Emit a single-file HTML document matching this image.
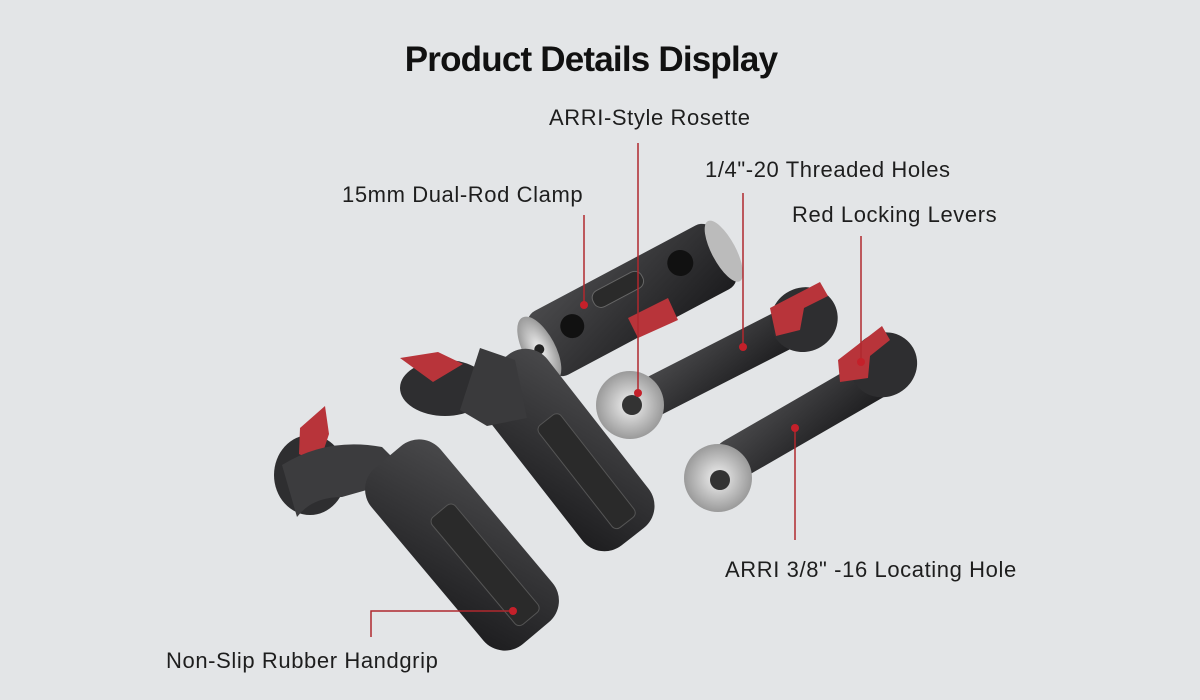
<!DOCTYPE html>
<html><head><meta charset="utf-8"><style>
html,body{margin:0;padding:0;background:#e3e5e7;}
body{width:1200px;height:700px;position:relative;overflow:hidden;font-family:"Liberation Sans",sans-serif;}
.t{position:absolute;color:#1e1e1e;font-size:22px;white-space:nowrap;letter-spacing:0.6px}
h1{position:absolute;left:0;width:1182px;top:40px;margin:0;text-align:center;font-size:35px;font-weight:bold;color:#111;letter-spacing:-0.8px}
svg{position:absolute;left:0;top:0}
</style></head><body>
<svg width="1200" height="700" viewBox="0 0 1200 700">
<defs>
<linearGradient id="g" x1="0" y1="0" x2="1" y2="1"><stop offset="0" stop-color="#4a4a4c"/><stop offset="1" stop-color="#1c1c1e"/></linearGradient>
<radialGradient id="s"><stop offset="0" stop-color="#f2f2f2"/><stop offset="1" stop-color="#9a9a9a"/></radialGradient>
</defs>
<!-- clamp -->
<g transform="translate(632,300) rotate(-28)">
<rect x="-105" y="-36" width="210" height="72" rx="14" fill="url(#g)"/>
<ellipse cx="-105" cy="0" rx="16" ry="36" fill="url(#s)"/>
<circle cx="-105" cy="0" r="5" fill="#222"/>
<ellipse cx="104" cy="0" rx="12" ry="34" fill="#bbb"/>
<rect x="-35" y="-25" width="55" height="18" rx="8" fill="#2a2a2a" stroke="#666"/>
<circle cx="-65" cy="-5" r="12" fill="#111"/><circle cx="60" cy="-10" r="13" fill="#111"/>
</g>
<path d="M628 318 l40 -20 l10 22 l-40 18 z" fill="#b8343a"/>
<!-- arm 1 -->
<g transform="translate(715,365) rotate(-27)">
<rect x="-90" y="-20" width="190" height="40" rx="18" fill="url(#g)"/>
<ellipse cx="100" cy="0" rx="34" ry="32" fill="#2e2e30"/>
</g>
<circle cx="630" cy="405" r="34" fill="url(#s)"/><circle cx="632" cy="405" r="10" fill="#333"/>
<path d="M770 308 l50 -26 l8 14 l-24 12 l-4 22 l-24 6 z" fill="#b8343a"/>
<!-- arm 2 -->
<g transform="translate(800,420) rotate(-30)">
<rect x="-95" y="-20" width="200" height="42" rx="18" fill="url(#g)"/>
<ellipse cx="100" cy="-6" rx="34" ry="32" fill="#2e2e30"/>
</g>
<circle cx="718" cy="478" r="34" fill="url(#s)"/><circle cx="720" cy="480" r="10" fill="#333"/>
<path d="M838 360 l44 -34 l8 14 l-20 16 l-2 22 l-28 4 z" fill="#b8343a"/>
<!-- grip 2 -->
<ellipse cx="445" cy="388" rx="45" ry="28" fill="#2e2e30"/>
<path d="M400 358 l38 -6 l25 12 l-30 18 z" fill="#b8343a"/>
<g transform="translate(565,450) rotate(52)">
<rect x="-110" y="-42" width="220" height="84" rx="28" fill="url(#g)"/>
<rect x="-35" y="-18" width="130" height="28" rx="6" fill="#2a2a2a" stroke="#555"/>
</g>
<path d="M460 410 l20 -62 l35 12 l12 58 l-40 8 z" fill="#3a3a3c"/>
<!-- grip 1 -->
<ellipse cx="310" cy="475" rx="36" ry="40" fill="#2e2e30"/>
<path d="M300 428 l25 -22 l4 28 l-10 30 l-20 -10 z" fill="#b8343a"/>
<path d="M282 465 q45 -28 100 -18 l30 30 l-70 20 q-30 0 -45 20 z" fill="#3c3c3e"/>
<g transform="translate(462,545) rotate(50)">
<rect x="-115" y="-45" width="230" height="90" rx="28" fill="url(#g)"/>
<rect x="-40" y="-20" width="140" height="30" rx="6" fill="#2a2a2a" stroke="#555"/>
</g>
<!-- leaders -->
<g stroke="#b0282e" stroke-width="1.5" fill="none">
<line x1="638" y1="143" x2="638" y2="393"/>
<line x1="743" y1="193" x2="743" y2="347"/>
<line x1="584" y1="215" x2="584" y2="305"/>
<line x1="861" y1="236" x2="861" y2="362"/>
<line x1="795" y1="428" x2="795" y2="540"/>
<polyline points="371,637 371,611 513,611"/>
</g>
<g fill="#c4202a">
<circle cx="638" cy="393" r="4"/><circle cx="743" cy="347" r="4"/><circle cx="584" cy="305" r="4"/>
<circle cx="861" cy="362" r="4"/><circle cx="795" cy="428" r="4"/><circle cx="513" cy="611" r="4"/>
</g>
</svg>
<h1>Product Details Display</h1>
<div class="t" style="left:549px;top:105px">ARRI-Style Rosette</div>
<div class="t" style="left:705px;top:157px">1/4"-20 Threaded Holes</div>
<div class="t" style="left:342px;top:182px">15mm Dual-Rod Clamp</div>
<div class="t" style="left:792px;top:202px">Red Locking Levers</div>
<div class="t" style="left:725px;top:557px">ARRI 3/8" -16 Locating Hole</div>
<div class="t" style="left:166px;top:648px">Non-Slip Rubber Handgrip</div>
</body></html>
